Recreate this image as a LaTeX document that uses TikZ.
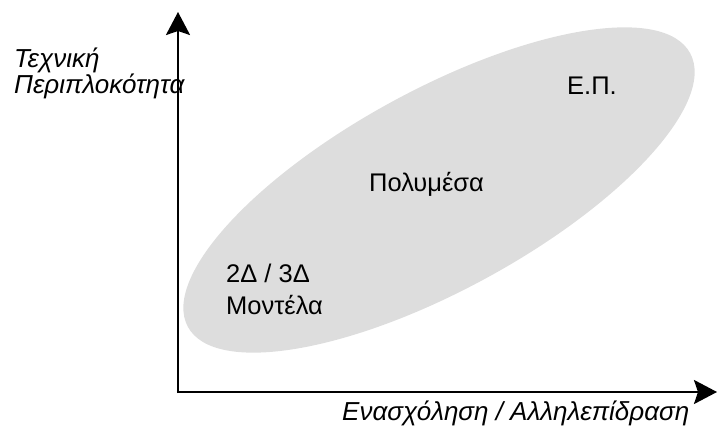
\documentclass[tikz,border=0pt]{standalone}
\usepackage{fontspec}
\setmainfont{Liberation Sans}
\usetikzlibrary{arrows.meta}
\definecolor{blobgray}{RGB}{221,221,221}
\begin{document}
\begin{tikzpicture}[x=1pt,y=-1pt,
  axis/.style={line width=2.4pt,-{Stealth[length=23pt,width=24pt,inset=4pt]}},
  lbl/.style={inner sep=0pt,anchor=base west,font=\fontsize{25.5}{30}\selectfont},
  axlbl/.style={inner sep=0pt,anchor=base west,font=\fontsize{26}{30}\selectfont\itshape}]
\useasboundingbox (0,0) rectangle (717,430);
\fill[blobgray] (439,190) ellipse [x radius=286, y radius=100, rotate=28.6];
\coordinate (origin) at (178,392);
\coordinate (ytip) at (178,12);
\coordinate (xtip) at (717,392);
\draw[axis] ([yshift=-1.2pt]origin) -- (ytip);
\draw[axis] ([xshift=-1.2pt]origin) -- (xtip);
\node[axlbl] (ylab1) at (14,68) {Τεχνική};
\node[axlbl] (ylab2) at (14,94) {Περιπλοκότητα};
\node[axlbl] (xlab) at (342,420) {Ενασχόληση / Αλληλεπίδραση};
\node[lbl] (ep) at (567,95) {Ε.Π.};
\node[lbl] (poly) at (369,192) {Πολυμέσα};
\node[lbl] (m1) at (226,283) {2Δ / 3Δ};
\node[lbl] (m2) at (226,314) {Μοντέλα};
\end{tikzpicture}
\end{document}
